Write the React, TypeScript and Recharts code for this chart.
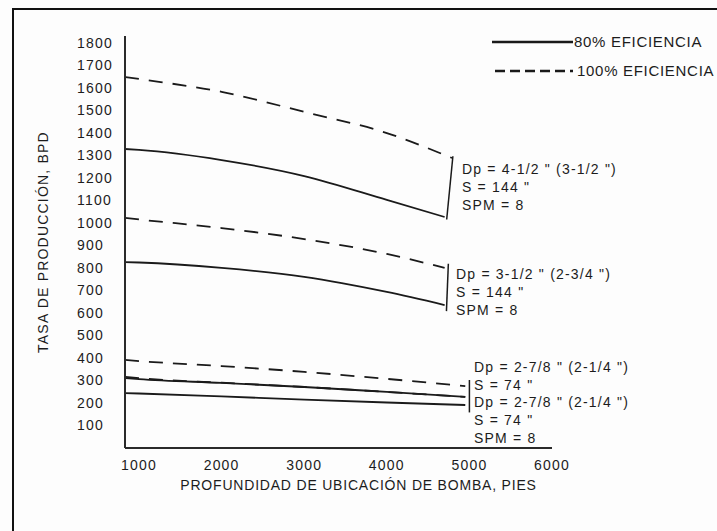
import { LineChart, Line, XAxis, YAxis, ReferenceLine, ReferenceDot, Legend } from 'recharts';

// depth (ft) / rate (BPD)
const depth45 = [830, 1000, 2000, 3000, 4000, 4790];
const rate45eff100 = [1648, 1639, 1582, 1493, 1399, 1288];
const depth45b = [830, 1000, 2000, 3000, 4000, 4700];
const rate45eff80 = [1328, 1324, 1279, 1208, 1102, 1026];

const depth35 = [830, 1000, 2000, 3000, 4000, 4700];
const rate35eff100 = [1022, 1015, 977, 928, 862, 800];
const rate35eff80 = [826, 824, 800, 760, 693, 635];

const depth278 = [830, 1000, 2000, 3000, 4000, 4950];
const rate278aEff100 = [391, 386, 364, 338, 307, 275];
const rate278aEff80 = [311, 306, 289, 271, 249, 227];
const rate278bEff100 = [316, 310, 290, 271, 249, 227];
const rate278bEff80 = [244, 242, 229, 215, 202, 191];

const yTicks = [100, 200, 300, 400, 500, 600, 700, 800, 900, 1000, 1100, 1200, 1300, 1400, 1500, 1600, 1700, 1800];
const xTicks = [1000, 2000, 3000, 4000, 5000, 6000];

const legendItems = [
  { label: '80% EFICIENCIA', dash: undefined as string | undefined },
  { label: '100% EFICIENCIA', dash: '10 5' },
];

const notes = [
  { depth: 4910, rate: 1239, step: 18, lines: ['Dp = 4-1/2 " (3-1/2 ")', 'S = 144 "', 'SPM = 8'] },
  { depth: 4838, rate: 773, step: 18, lines: ['Dp = 3-1/2 " (2-3/4 ")', 'S = 144 "', 'SPM = 8'] },
  { depth: 5056, rate: 360, step: 17.7, lines: ['Dp = 2-7/8 " (2-1/4 ")', 'S = 74 "', 'Dp = 2-7/8 " (2-1/4 ")', 'S = 74 "', 'SPM = 8'] },
];

const brackets = [
  [{ x: 4800, y: 1296 }, { x: 4725, y: 1015 }],
  [{ x: 4745, y: 818 }, { x: 4722, y: 608 }],
  [{ x: 5000, y: 302 }, { x: 5000, y: 158 }],
];

const toPoints = (xs: number[], ys: number[]) => xs.map((x, i) => ({ x, y: ys[i] }));

const series = [
  { key: 's1', data: toPoints(depth45, rate45eff100), dash: '14 10' },
  { key: 's2', data: toPoints(depth45b, rate45eff80), dash: undefined },
  { key: 's3', data: toPoints(depth35, rate35eff100), dash: '14 10' },
  { key: 's4', data: toPoints(depth35, rate35eff80), dash: undefined },
  { key: 's5', data: toPoints(depth278, rate278aEff100), dash: '14 10' },
  { key: 's6', data: toPoints(depth278, rate278aEff80), dash: undefined },
  { key: 's7', data: toPoints(depth278, rate278bEff100), dash: '14 10' },
  { key: 's8', data: toPoints(depth278, rate278bEff80), dash: undefined },
];

const INK = '#1a1a1a';
const TEXT = '#1c1c1c';

const YTick = (props: any) => {
  const { x, y, payload } = props;
  return (
    <text x={x} y={y} dy={5} textAnchor="start" fill={TEXT} fontSize={14}>
      {payload.value}
    </text>
  );
};

const YTitle = (props: any) => {
  const vb = props.viewBox;
  const cx = vb.x + 30;
  const cy = vb.y + vb.height / 2;
  return (
    <text x={cx} y={cy} transform={`rotate(-90, ${cx}, ${cy})`} textAnchor="middle" dominantBaseline="central" fill={TEXT} fontSize={14}>
      TASA DE PRODUCCIÓN, BPD
    </text>
  );
};

const XTitle = (props: any) => {
  const vb = props.viewBox;
  return (
    <text x={vb.x + vb.width / 2 + 20} y={vb.y + 42} textAnchor="middle" fill={TEXT} fontSize={14} style={{ letterSpacing: '0.8px' }}>
      PROFUNDIDAD DE UBICACIÓN DE BOMBA, PIES
    </text>
  );
};

const makeNote = (lines: string[], step: number) => (props: any) => {
  const vb = props.viewBox || props;
  const x = vb.x + (vb.width || 0) / 2;
  const y = vb.y + (vb.height || 0) / 2;
  return (
    <text x={x} y={y} fill={TEXT} fontSize={14}>
      {lines.map((l, i) => (
        <tspan key={i} x={x} y={y + i * step} dy={5}>
          {l}
        </tspan>
      ))}
    </text>
  );
};

const LegendBox = () => (
  <svg width={227} height={56} style={{ overflow: 'visible' }}>
    {legendItems.map((it, i) => {
      const y = 12 + i * 29;
      return (
        <g key={it.label}>
          <line x1={i === 0 ? 2 : 5} x2={83} y1={y} y2={y} stroke={INK} strokeWidth={2.6} strokeDasharray={it.dash} />
          <text x={i === 0 ? 84 : 87} y={y} dy={5} fill={TEXT} fontSize={15} style={{ letterSpacing: '0.7px' }}>
            {it.label}
          </text>
        </g>
      );
    })}
  </svg>
);

export default function App() {
  return (
    <div
      style={{
        position: 'absolute',
        left: 0,
        top: 0,
        width: 717,
        height: 531,
        overflow: 'hidden',
        background: '#fdfdfd',
        fontFamily: '"Liberation Sans", Arial, sans-serif',
        letterSpacing: '1.2px',
      }}
    >
      <div
        style={{
          position: 'absolute',
          left: 12,
          top: 8,
          right: -10,
          bottom: -10,
          borderLeft: '2.5px solid #111',
          borderTop: '2.5px solid #111',
        }}
      />
      <div style={{ position: 'absolute', left: 0, top: 0 }}>
        <LineChart width={717} height={531} margin={{ top: 36, right: 165, bottom: 38, left: 13 }}>
          <XAxis
            type="number"
            dataKey="x"
            domain={[830, 6000]}
            ticks={xTicks}
            interval={0}
            allowDataOverflow
            tickLine={false}
            tickSize={6}
            tickMargin={6}
            height={45}
            axisLine={{ stroke: '#2a2a2a', strokeWidth: 2 }}
            tick={{ fill: TEXT, fontSize: 14 }}
            label={<XTitle />}
          />
          <YAxis
            type="number"
            dataKey="y"
            domain={[0, 1830]}
            ticks={yTicks}
            interval={0}
            allowDataOverflow
            width={112}
            tickLine={false}
            tickSize={0}
            tickMargin={48}
            axisLine={{ stroke: '#2a2a2a', strokeWidth: 2 }}
            tick={<YTick />}
            label={<YTitle />}
          />
          <Legend
            layout="vertical"
            align="center"
            verticalAlign="middle"
            wrapperStyle={{ left: 490, top: 30, width: 227 }}
            content={<LegendBox />}
          />
          {series.map((s) => (
            <Line
              key={s.key}
              data={s.data}
              dataKey="y"
              type="monotone"
              stroke={INK}
              strokeWidth={1.8}
              strokeDasharray={s.dash}
              dot={false}
              activeDot={false}
              isAnimationActive={false}
              legendType="none"
            />
          ))}
          {brackets.map((seg, i) => (
            <ReferenceLine key={i} segment={seg} stroke={INK} strokeWidth={1.5} />
          ))}
          {notes.map((n, i) => (
            <ReferenceDot key={i} x={n.depth} y={n.rate} r={0} fill="none" stroke="none" label={makeNote(n.lines, n.step)} />
          ))}
        </LineChart>
      </div>
    </div>
  );
}
